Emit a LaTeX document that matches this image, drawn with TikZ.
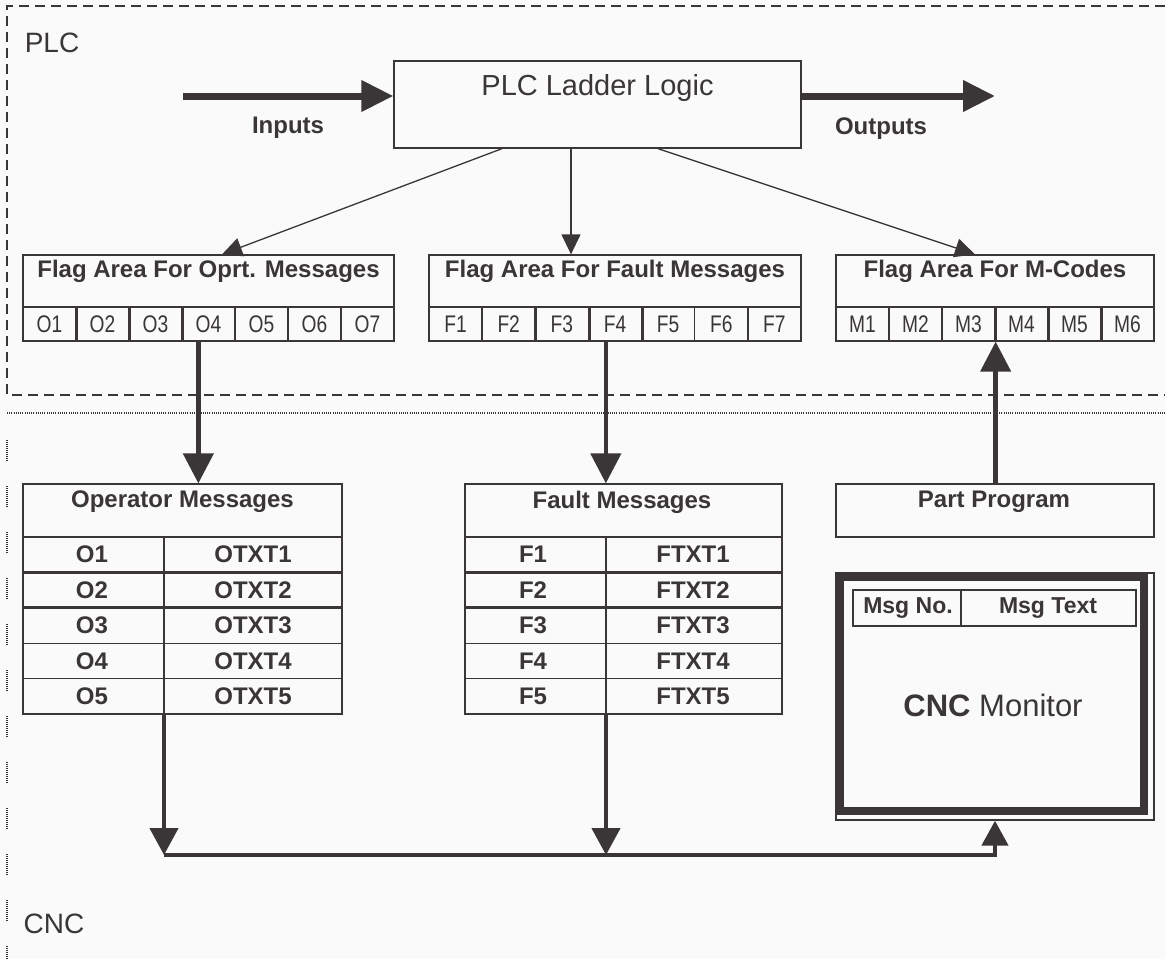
\documentclass[tikz,border=0pt]{standalone}
\usepackage{fontspec}
\setmainfont{Liberation Sans}
\newfontfamily\narrowsans[FakeStretch=0.8]{Liberation Sans}
\usetikzlibrary{arrows.meta,calc}
\definecolor{ink}{HTML}{3A3537}
\definecolor{bg}{HTML}{FAFAFA}
\tikzset{
  box/.style={draw=ink, line width=1.3pt, inner sep=0pt},
  cellbox/.style={draw=ink, line width=1.3pt, inner sep=0pt, minimum width=53pt, minimum height=34pt, text=ink, font=\narrowsans\fontsize{24}{26}\selectfont},
  blab/.style={text=ink, font=\fontsize{24}{27}\selectfont\bfseries, inner sep=0pt},
  rlab/.style={text=ink, font=\fontsize{28}{32}\selectfont, inner sep=0pt},
  gridline/.style={draw=ink, line width=1.3pt},
  heavyline/.style={draw=ink, line width=3pt},
  thinarrow/.style={draw=ink, line width=1.3pt, -{Triangle[length=20pt,width=19pt]}},
  bigarrow/.style={draw=ink, line width=4.5pt, -{Triangle[length=30pt,width=30pt]}},
  busarrow/.style={draw=ink, line width=4.5pt, -{Triangle[length=27pt,width=28pt]}},
  hugearrow/.style={draw=ink, line width=7pt, -{Triangle[length=32pt,width=30pt]}},
}
\begin{document}
\begin{tikzpicture}[x=1pt,y=-1pt]
\useasboundingbox (0,0) rectangle (1165,959);
\fill[bg] (0,0) rectangle (1165,959);

% regions
\draw[ink, line width=1.3pt, dash pattern=on 10pt off 6pt] (1165,6) -- (7,6) -- (7,395) -- (1165,395);
\draw[ink, line width=1.2pt, dash pattern=on 1pt off 1.2pt] (7,413) -- (1165,413);
\draw[ink, line width=1.2pt, dash pattern=on 1pt off 1pt on 1pt off 1pt on 1pt off 1pt on 1pt off 1pt on 1pt off 1pt on 1pt off 1pt on 1pt off 1pt on 1pt off 1pt on 1pt off 1pt on 1pt off 1pt on 1pt off 25pt] (7,440) -- (7,959);
\node[rlab] (plcl) at (52,43) {PLC};
\node[rlab] (cncl) at (54,924) {CNC};

% PLC ladder logic
\node[box, minimum width=407pt, minimum height=87pt] (plc) at (597.5,104.5) {};
\node[text=ink, font=\fontsize{29}{32}\selectfont, inner sep=0pt] (plct) at (597.5,88) {PLC Ladder Logic};
\coordinate (inA) at (183,96);
\coordinate (outB) at (995,96);
\draw[hugearrow] (inA) -- (inA -| plc.west);
\draw[hugearrow] (outB -| plc.east) -- (outB);
\node[blab] (inl) at (288,128) {Inputs};
\node[blab] (outl) at (881,129) {Outputs};

% flag areas
\node[box, minimum width=371pt, minimum height=52pt] (fo) at (208.5,281) {};
\node[blab] (fot) at (208.5,271) {Flag Area For Oprt. Messages};
\foreach \i in {1,...,7} \node[cellbox] (o\i) at ({23+53*(\i-0.5)},324) {O\i};
\foreach \i in {1,2,3} \draw[heavyline] (o\i.north east) -- (o\i.south east);

\node[box, minimum width=372pt, minimum height=52pt] (ff) at (615,281) {};
\node[blab] (fft) at (615,271) {Flag Area For Fault Messages};
\foreach \i in {1,...,7} \node[cellbox] (f\i) at ({429+53.14*(\i-0.5)},324) {F\i};
\foreach \i in {2,3,4} \draw[heavyline] (f\i.north east) -- (f\i.south east);

\node[box, minimum width=318pt, minimum height=52pt] (fm) at (995,281) {};
\node[blab] (fmt) at (995,271) {Flag Area For M-Codes};
\foreach \i in {1,...,6} \node[cellbox] (m\i) at ({836+53*(\i-0.5)},324) {M\i};
\foreach \i in {3,4,5} \draw[heavyline] (m\i.north east) -- (m\i.south east);

% thin arrows
\draw[thinarrow] ([xshift=-95.5pt]plc.south) -- ([xshift=13.5pt]fo.north);
\coordinate (pm) at ([xshift=-26.5pt]plc.south);
\draw[thinarrow] (pm) -- (pm |- ff.north);
\draw[thinarrow] ([xshift=60.5pt]plc.south) -- ([xshift=-20pt]fm.north);

% operator messages
\node[box, minimum width=319pt, minimum height=230pt] (opm) at (182.5,599) {};
\node[blab] (opmt) at (182.5,502) {Operator Messages};
\draw[gridline] (23,537) -- (342,537);
\draw[heavyline] (23,572.4) -- (342,572.4);
\draw[heavyline] (23,607.8) -- (342,607.8);
\draw[gridline] (23,643.2) -- (342,643.2);
\draw[gridline] (23,678.6) -- (342,678.6);
\draw[gridline] (164,537) -- (164,714);
\foreach \i in {1,...,5} {
  \node[blab] (or\i) at (92,{537+35.4*(\i-0.5)}) {O\i};
  \node[blab] (ot\i) at (253,{537+35.4*(\i-0.5)}) {OTXT\i};
}

% fault messages
\node[box, minimum width=317pt, minimum height=230pt] (fam) at (623.5,599) {};
\node[blab] (famt) at (622,502) {Fault Messages};
\draw[gridline] (465,537) -- (782,537);
\draw[heavyline] (465,572.4) -- (782,572.4);
\draw[heavyline] (465,607.8) -- (782,607.8);
\draw[gridline] (465,643.2) -- (782,643.2);
\draw[gridline] (465,678.6) -- (782,678.6);
\draw[gridline] (606,537) -- (606,714);
\foreach \i in {1,...,5} {
  \node[blab] (fr\i) at (533,{537+35.4*(\i-0.5)}) {F\i};
  \node[blab] (ft\i) at (693,{537+35.4*(\i-0.5)}) {FTXT\i};
}

% part program
\node[box, minimum width=318pt, minimum height=53pt] (pp) at (995,510.5) {};
\node[blab] (ppt) at (994,502) {Part Program};

% CNC monitor
\node[box, minimum width=318pt, minimum height=247pt] (mon) at (995,696.5) {};
\draw[ink, line width=8pt] (840,577) rectangle (1144,811);
\node[box, minimum width=283pt, minimum height=36pt] (hdr) at (994.5,608) {};
\draw[ink, line width=2.5pt] (961,590) -- (961,626);
\node[blab, font=\fontsize{23}{25}\selectfont\bfseries] (hno) at (908,608) {Msg No.};
\node[blab, font=\fontsize{23}{25}\selectfont\bfseries] (htx) at (1048,608) {Msg Text};
\node[text=ink, font=\fontsize{31}{34}\selectfont, inner sep=0pt] (mont) at (993,705) {\textbf{CNC} Monitor};

% thick arrows
\coordinate (o4a) at ([xshift=17pt]o4.south west);
\draw[bigarrow] (o4a) -- (o4a |- opm.north);
\coordinate (f4a) at ([xshift=18pt]f4.south west);
\draw[bigarrow] (f4a) -- (f4a |- fam.north);
\draw[bigarrow] (pp.north -| m3.south east) -- (m3.south east);

% bus
\coordinate (opc) at (164,714);
\coordinate (fac) at (606,714);
\coordinate (bl) at (164,855);
\coordinate (bm) at (606,855);
\coordinate (br) at (995,855);
\draw[busarrow] (opc) -- (bl);
\draw[busarrow] (fac) -- (bm);
\draw[draw=ink, line width=4.5pt, -{Triangle[length=25pt,width=26pt]}] (bl) -- (br) -- (mon.south);
\end{tikzpicture}
\end{document}
